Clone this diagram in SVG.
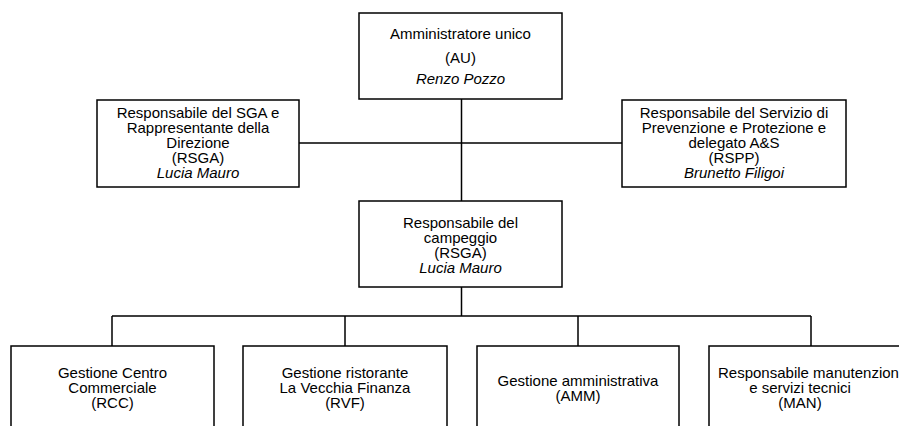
<svg xmlns="http://www.w3.org/2000/svg" width="899" height="426" viewBox="0 0 899 426">
<style>
.box{fill:#fff;stroke:#000;stroke-width:1.5}
.ln{fill:none;stroke:#000;stroke-width:1.5}
text{font-family:"Liberation Sans",Arial,sans-serif;font-size:15px;fill:#000;text-anchor:middle}
.it{font-style:italic}
</style>
<rect width="899" height="426" fill="#fff"/>
<g id="connectors">
<path class="ln" d="M461.5 99V201M299 143H622M461.5 287V316M112 316H811M112 316V346M345 316V346M578 316V346M811 316V346"/>
</g>
<g id="au">
<rect class="box" x="359" y="13" width="203" height="86"/>
<text x="460.5" y="39">Amministratore unico</text>
<text x="460.5" y="63">(AU)</text>
<text x="460.5" y="84" class="it">Renzo Pozzo</text>
</g>
<g id="rsga">
<rect class="box" x="97" y="100" width="202" height="87"/>
<text x="198" y="118">Responsabile del SGA e</text>
<text x="198" y="133">Rappresentante della</text>
<text x="198" y="148">Direzione</text>
<text x="198" y="163">(RSGA)</text>
<text x="198" y="178" class="it">Lucia Mauro</text>
</g>
<g id="rspp">
<rect class="box" x="622" y="100" width="224" height="87"/>
<text x="734" y="118">Responsabile del Servizio di</text>
<text x="734" y="133">Prevenzione e Protezione e</text>
<text x="734" y="148">delegato A&amp;S</text>
<text x="734" y="163">(RSPP)</text>
<text x="734" y="178" class="it">Brunetto Filigoi</text>
</g>
<g id="campeggio">
<rect class="box" x="359" y="201" width="203" height="86"/>
<text x="460.5" y="228">Responsabile del</text>
<text x="460.5" y="243">campeggio</text>
<text x="460.5" y="258">(RSGA)</text>
<text x="460.5" y="273" class="it">Lucia Mauro</text>
</g>
<g id="rcc">
<rect class="box" x="11" y="346" width="203" height="90"/>
<text x="112.5" y="378">Gestione Centro</text>
<text x="112.5" y="393">Commerciale</text>
<text x="112.5" y="408">(RCC)</text>
</g>
<g id="rvf">
<rect class="box" x="243" y="346" width="204" height="90"/>
<text x="345" y="378">Gestione ristorante</text>
<text x="345" y="393">La Vecchia Finanza</text>
<text x="345" y="408">(RVF)</text>
</g>
<g id="amm">
<rect class="box" x="477" y="346" width="202" height="90"/>
<text x="578" y="386">Gestione amministrativa</text>
<text x="578" y="401">(AMM)</text>
</g>
<g id="man">
<rect class="box" x="709" y="346" width="204" height="90"/>
<text x="718" y="378" style="text-anchor:start">Responsabile manutenzione</text>
<text x="800" y="393">e servizi tecnici</text>
<text x="800" y="408">(MAN)</text>
</g>
</svg>
